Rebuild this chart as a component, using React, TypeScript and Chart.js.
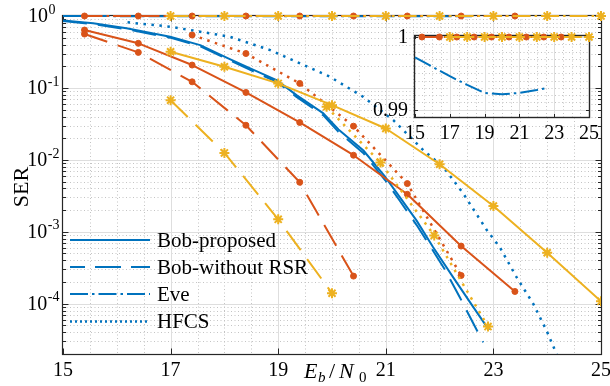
import React, { useEffect, useRef } from 'react';
import { Chart, registerables } from 'chart.js';
Chart.register(...registerables);

const BLUE = '#0072BD';
const RED = '#D95319';
const YELLOW = '#EDB120';
const AX = '#262626';
const GRID_MAJOR = '#dedede';
const GRID_MINOR = '#c4c4c4';
const FONT = '"Liberation Serif", "Times New Roman", serif';

// ---- tick labels ----
const X_TICKS = [15, 17, 19, 21, 23, 25];
const Y_DECADES = [0, -1, -2, -3, -4];
const INSET_X_TICKS = [15, 17, 19, 21, 23, 25];
const INSET_Y_TICKS = [0.99, 1];
const INSET_Y_LABELS = ['0.99', '1'];
const LEGEND_LABELS = ['Bob-proposed', 'Bob-without RSR', 'Eve', 'HFCS'];

// ---- blue group (no markers) ----
const blueProposedX = [15, 15.56, 16.18, 16.99, 17.55, 18.07, 18.48, 18.97, 19.34, 19.84, 20.12, 20.58, 20.99, 21.26, 21.57, 21.88, 22.25, 22.63, 22.92];
const blueProposedY = [0.865, 0.79, 0.674, 0.515, 0.394, 0.258, 0.187, 0.1285, 0.0794, 0.0442, 0.0265, 0.0136, 0.00578, 0.00304, 0.00144, 0.00061, 0.000234, 0.000089, 0.000043];
const blueNoRsrX = [15, 15.56, 16.18, 16.99, 17.55, 18.07, 18.48, 18.97, 19.34, 19.84, 20.12, 20.58, 20.99, 21.26, 21.57, 21.82, 22.1, 22.38, 22.81];
const blueNoRsrY = [0.85, 0.77, 0.655, 0.5, 0.38, 0.248, 0.178, 0.122, 0.075, 0.0415, 0.0245, 0.0125, 0.0052, 0.0027, 0.00125, 0.00064, 0.000296, 0.000121, 0.000029];
const blueEveX = [15, 16, 17, 18, 19, 20, 21, 22, 22.6];
const blueEveY = [0.9972, 0.9959, 0.9946, 0.9934, 0.9923, 0.9921, 0.9923, 0.9927, 0.993];
const blueHfcsX = [16.2, 16.99, 17.55, 18.1, 18.85, 19.34, 19.96, 20.58, 21.14, 21.7, 22.07, 22.44, 22.88, 23.12, 23.43, 23.74, 23.99, 24.2];
const blueHfcsY = [0.817, 0.71, 0.605, 0.515, 0.336, 0.231, 0.143, 0.0752, 0.0356, 0.0136, 0.00796, 0.0034, 0.00105, 0.00061, 0.000234, 0.0001, 0.000042, 0.000018];

// ---- red group (dot markers) ----
const redProposedX = [15.4, 16.4, 17.4, 18.4, 19.4, 20.4, 21.4, 22.4, 23.4];
const redProposedY = [0.638, 0.417, 0.208, 0.0865, 0.0331, 0.0116, 0.00332, 0.000633, 0.000148];
const redNoRsrX = [15.4, 16.4, 17.4, 18.4, 19.4, 20.4];
const redNoRsrY = [0.561, 0.312, 0.1216, 0.0303, 0.00488, 0.000242];
const redEveX = [15.4, 16.4, 17.4, 18.4, 19.4, 20.4, 21.4, 22.4, 23.4];
const redEveY = [1, 1, 1, 1, 1, 1, 1, 1, 1];
const redHfcsX = [17.4, 18.4, 19.4, 20.4, 21.4, 22.4];
const redHfcsY = [0.544, 0.301, 0.1156, 0.0294, 0.00468, 0.000247];

// ---- yellow group (star markers) ----
const yellowProposedX = [17, 18, 19, 20, 21, 22, 23, 24, 25];
const yellowProposedY = [0.318, 0.197, 0.1156, 0.0576, 0.0273, 0.00869, 0.00228, 0.000512, 0.000108];
const yellowNoRsrX = [17, 18, 19, 20];
const yellowNoRsrY = [0.0676, 0.0125, 0.00149, 0.00014];
const yellowEveX = [17, 18, 19, 20, 21, 22, 23, 24, 25];
const yellowEveY = [1, 1, 1, 1, 1, 1, 1, 1, 1];
const yellowHfcsX = [19.9, 20.9, 21.9, 22.9];
const yellowHfcsY = [0.0546, 0.00917, 0.00089, 0.0000481];

const SOLID: number[] = [];
const DASHED = [24, 11];
const DASHDOT = [18, 4, 2.5, 4];
const DOTTED = [2.5, 5.5];

function pts(xs: number[], ys: number[]) {
  return xs.map((x, i) => ({ x, y: ys[i] }));
}

function ds(label: string, xs: number[], ys: number[], color: string, dash: number[], marker: string | null, order: number, extra: any = {}) {
  return {
    label,
    data: pts(xs, ys),
    borderColor: color,
    backgroundColor: color,
    borderWidth: dash === DOTTED ? 2.5 : 2,
    borderDash: dash,
    borderCapStyle: 'butt',
    borderJoinStyle: 'round',
    tension: 0,
    fill: false,
    pointRadius: marker ? (marker === 'circle' ? 3 : 5) : 0,
    pointStyle: marker || 'circle',
    pointBackgroundColor: color,
    pointBorderColor: color,
    pointBorderWidth: marker === 'star' ? 2 : 1,
    order,
    ...extra,
  };
}

function line(ctx: CanvasRenderingContext2D, x0: number, y0: number, x1: number, y1: number) {
  ctx.beginPath();
  ctx.moveTo(x0, y0);
  ctx.lineTo(x1, y1);
  ctx.stroke();
}

const crisp = (v: number) => Math.round(v) + 0.5;

const mainDecor = {
  id: 'mainDecor',
  beforeDatasetsDraw(chart: any) {
    const { ctx, chartArea: a } = chart;
    const xs = chart.scales.x;
    const ys = chart.scales.y;
    ctx.save();
    ctx.lineWidth = 1;
    // minor grid
    ctx.strokeStyle = GRID_MINOR;
    ctx.setLineDash([1, 2.5]);
    for (let v = 15.5; v < 25; v += 0.5) {
      if (X_TICKS.includes(v)) continue;
      const px = crisp(xs.getPixelForValue(v));
      line(ctx, px, a.top, px, a.bottom);
    }
    for (let e = -5; e < 0; e++) {
      for (let k = 2; k <= 9; k++) {
        const v = k * Math.pow(10, e);
        if (v <= ys.min || v >= ys.max) continue;
        const py = crisp(ys.getPixelForValue(v));
        line(ctx, a.left, py, a.right, py);
      }
    }
    // major grid
    ctx.setLineDash([]);
    ctx.strokeStyle = GRID_MAJOR;
    for (const v of X_TICKS) {
      if (v === 15 || v === 25) continue;
      const px = crisp(xs.getPixelForValue(v));
      line(ctx, px, a.top, px, a.bottom);
    }
    for (const e of Y_DECADES) {
      if (e === 0) continue;
      const py = crisp(ys.getPixelForValue(Math.pow(10, e)));
      line(ctx, a.left, py, a.right, py);
    }
    // box
    ctx.strokeStyle = AX;
    ctx.lineWidth = 1.2;
    ctx.strokeRect(crisp(a.left) - 1, crisp(a.top) - 1, Math.round(a.right - a.left) + 1, Math.round(a.bottom - a.top) + 1);
    // ticks
    ctx.lineWidth = 1;
    for (const v of X_TICKS) {
      const px = crisp(xs.getPixelForValue(v));
      line(ctx, px, a.bottom, px, a.bottom - 5.5);
      line(ctx, px, a.top, px, a.top + 5.5);
    }
    for (const e of Y_DECADES) {
      const py = crisp(ys.getPixelForValue(Math.pow(10, e)));
      line(ctx, a.left, py, a.left + 5.5, py);
      line(ctx, a.right, py, a.right - 5.5, py);
    }
    for (let e = -5; e < 0; e++) {
      for (let k = 2; k <= 9; k++) {
        const v = k * Math.pow(10, e);
        if (v <= ys.min || v >= ys.max) continue;
        const py = crisp(ys.getPixelForValue(v));
        line(ctx, a.left, py, a.left + 3, py);
        line(ctx, a.right, py, a.right - 3, py);
      }
    }
    ctx.restore();
  },
  afterDatasetsDraw(chart: any) {
    const { ctx, chartArea: a } = chart;
    const xs = chart.scales.x;
    const ys = chart.scales.y;
    ctx.save();
    ctx.fillStyle = '#000';
    // x tick labels
    ctx.font = `20px ${FONT}`;
    ctx.textAlign = 'center';
    ctx.textBaseline = 'middle';
    for (const v of X_TICKS) {
      ctx.fillText(String(v), xs.getPixelForValue(v), a.bottom + 17);
    }
    // y tick labels 10^e
    for (const e of Y_DECADES) {
      const py = ys.getPixelForValue(Math.pow(10, e));
      const expStr = e === 0 ? '0' : '-' + String(-e);
      ctx.font = `14px ${FONT}`;
      const we = ctx.measureText(expStr).width;
      ctx.font = `20px ${FONT}`;
      const wb = ctx.measureText('10').width;
      const right = e === 0 ? a.left - 8 : a.left - 4;
      const x0 = right - we - wb;
      ctx.textAlign = 'left';
      ctx.textBaseline = 'middle';
      ctx.fillText('10', x0, py + 1);
      ctx.font = `14px ${FONT}`;
      ctx.fillText(expStr, x0 + wb + 0.5, py - 6);
    }
    // y title
    ctx.save();
    ctx.translate(22, (a.top + a.bottom) / 2 + 2);
    ctx.rotate(-Math.PI / 2);
    ctx.font = `22px ${FONT}`;
    ctx.textAlign = 'center';
    ctx.textBaseline = 'middle';
    ctx.fillText('SER', 0, 0);
    ctx.restore();
    // x title E_b/N_0
    ctx.textAlign = 'left';
    ctx.textBaseline = 'alphabetic';
    const base = a.bottom + 24;
    ctx.font = `italic 22px ${FONT}`;
    ctx.fillText('E', 304, base);
    ctx.font = `italic 15px ${FONT}`;
    ctx.fillText('b', 318, base + 4);
    ctx.font = `22px ${FONT}`;
    ctx.fillText('/', 329, base);
    ctx.font = `italic 22px ${FONT}`;
    ctx.fillText('N', 339, base);
    ctx.font = `15px ${FONT}`;
    ctx.fillText('0', 359, base + 4);
    // legend
    const legendDash = [SOLID, [26, 10], [18, 4, 2.5, 4], [2, 3]];
    const rowsY = [240, 267, 294, 321.5];
    for (let i = 0; i < LEGEND_LABELS.length; i++) {
      ctx.strokeStyle = BLUE;
      ctx.lineWidth = i === 3 ? 2.5 : 2;
      ctx.setLineDash(legendDash[i]);
      if (i === 1) ctx.lineDashOffset = 11; else ctx.lineDashOffset = 0;
      line(ctx, 70, rowsY[i], 150, rowsY[i]);
      ctx.setLineDash([]);
      ctx.font = `21px ${FONT}`;
      ctx.fillStyle = '#000';
      ctx.textBaseline = 'middle';
      ctx.fillText(LEGEND_LABELS[i], 157, rowsY[i] + 1);
    }
    ctx.restore();
  },
};

const insetDecor = {
  id: 'insetDecor',
  beforeDatasetsDraw(chart: any) {
    const { ctx, chartArea: a } = chart;
    const xs = chart.scales.x;
    const ys = chart.scales.y;
    ctx.save();
    ctx.fillStyle = '#fff';
    ctx.fillRect(a.left, a.top, a.right - a.left, a.bottom - a.top);
    ctx.lineWidth = 1;
    ctx.strokeStyle = GRID_MINOR;
    ctx.setLineDash([1, 2.5]);
    for (let v = 15.5; v < 25; v += 0.5) {
      if (INSET_X_TICKS.includes(v)) continue;
      const px = crisp(xs.getPixelForValue(v));
      line(ctx, px, a.top, px, a.bottom);
    }
    for (let k = 1; k <= 9; k++) {
      const py = crisp(ys.getPixelForValue(0.99 + k * 0.001));
      line(ctx, a.left, py, a.right, py);
    }
    {
      const py = crisp(ys.getPixelForValue(0.989));
      if (py < a.bottom) line(ctx, a.left, py, a.right, py);
    }
    ctx.setLineDash([]);
    ctx.strokeStyle = GRID_MAJOR;
    for (const v of INSET_X_TICKS) {
      if (v === 15 || v === 25) continue;
      const px = crisp(xs.getPixelForValue(v));
      line(ctx, px, a.top, px, a.bottom);
    }
    for (const v of INSET_Y_TICKS) {
      const py = crisp(ys.getPixelForValue(v));
      line(ctx, a.left, py, a.right, py);
    }
    ctx.strokeStyle = AX;
    ctx.lineWidth = 1.4;
    ctx.strokeRect(crisp(a.left) - 1, crisp(a.top) - 1, Math.round(a.right - a.left) + 1, Math.round(a.bottom - a.top) + 1);
    ctx.lineWidth = 1;
    for (const v of INSET_X_TICKS) {
      const px = crisp(xs.getPixelForValue(v));
      line(ctx, px, a.bottom, px, a.bottom - 3);
      line(ctx, px, a.top, px, a.top + 3);
    }
    for (const v of INSET_Y_TICKS) {
      const py = crisp(ys.getPixelForValue(v));
      line(ctx, a.left, py, a.left + 3, py);
      line(ctx, a.right, py, a.right - 3, py);
    }
    ctx.restore();
  },
  afterDatasetsDraw(chart: any) {
    const { ctx, chartArea: a } = chart;
    const xs = chart.scales.x;
    const ys = chart.scales.y;
    ctx.save();
    ctx.fillStyle = '#000';
    ctx.font = `20px ${FONT}`;
    ctx.textAlign = 'center';
    ctx.textBaseline = 'middle';
    for (const v of INSET_X_TICKS) {
      ctx.fillText(String(v), xs.getPixelForValue(v), a.bottom + 17);
    }
    ctx.textAlign = 'right';
    for (let i = 0; i < INSET_Y_TICKS.length; i++) {
      ctx.fillText(INSET_Y_LABELS[i], a.left - 7, ys.getPixelForValue(INSET_Y_TICKS[i]) + 1);
    }
    ctx.restore();
  },
};

export default function App() {
  const mainRef = useRef<HTMLCanvasElement>(null);
  const insetRef = useRef<HTMLCanvasElement>(null);

  useEffect(() => {
    const noClip = { clip: false };
    const mainDatasets: any[] = [
      ds('Bob-proposed', blueProposedX, blueProposedY, BLUE, SOLID, null, 2),
      ds('Bob-without RSR', blueNoRsrX, blueNoRsrY, BLUE, DASHED, null, 2),
      ds('Eve', blueEveX, blueEveY, BLUE, DASHDOT, null, 2, noClip),
      ds('HFCS', blueHfcsX, blueHfcsY, BLUE, DOTTED, null, 2),
      ds('Bob-proposed (red)', redProposedX, redProposedY, RED, SOLID, 'circle', 1),
      ds('Bob-without RSR (red)', redNoRsrX, redNoRsrY, RED, DASHED, 'circle', 1),
      ds('Eve (red)', redEveX, redEveY, RED, DASHDOT, 'circle', 1, noClip),
      ds('HFCS (red)', redHfcsX, redHfcsY, RED, DOTTED, 'circle', 1),
      ds('Bob-proposed (yellow)', yellowProposedX, yellowProposedY, YELLOW, SOLID, 'star', 0),
      ds('Bob-without RSR (yellow)', yellowNoRsrX, yellowNoRsrY, YELLOW, DASHED, 'star', 0),
      ds('Eve (yellow)', yellowEveX, yellowEveY, YELLOW, DASHDOT, 'star', 0, noClip),
      ds('HFCS (yellow)', yellowHfcsX, yellowHfcsY, YELLOW, DOTTED, 'star', 0),
    ];
    const main = new Chart(mainRef.current as HTMLCanvasElement, {
      type: 'line',
      data: { datasets: mainDatasets },
      options: {
        responsive: false,
        animation: false,
        devicePixelRatio: 1,
        events: [],
        layout: { padding: { left: 63, right: 9, top: 16, bottom: 32 } },
        scales: {
          x: { type: 'linear', min: 15, max: 25, display: false },
          y: { type: 'logarithmic', min: 2e-5, max: 1, display: false },
        },
        plugins: { legend: { display: false }, tooltip: { enabled: false } },
      } as any,
      plugins: [mainDecor],
    });

    const insetDatasets: any[] = [
      ds('Eve', blueEveX, blueEveY, BLUE, DASHDOT, null, 2, noClip),
      ds('Eve (red)', redEveX, redEveY, RED, DASHDOT, 'circle', 1, noClip),
      ds('Eve (yellow)', yellowEveX, yellowEveY, YELLOW, DASHDOT, 'star', 0, noClip),
    ];
    const inset = new Chart(insetRef.current as HTMLCanvasElement, {
      type: 'line',
      data: { datasets: insetDatasets },
      options: {
        responsive: false,
        animation: false,
        devicePixelRatio: 1,
        events: [],
        layout: { padding: { left: 55, right: 21, top: 16, bottom: 33 } },
        scales: {
          x: { type: 'linear', min: 15, max: 25, display: false },
          y: { type: 'linear', min: 0.98898, max: 1.00014, display: false },
        },
        plugins: { legend: { display: false }, tooltip: { enabled: false } },
      } as any,
      plugins: [insetDecor],
    });

    return () => {
      main.destroy();
      inset.destroy();
    };
  }, []);

  return (
    <div style={{ position: 'fixed', left: 0, top: 0, width: 610, height: 386, background: '#fff', overflow: 'hidden' }}>
      <canvas ref={mainRef} width={610} height={386} style={{ position: 'absolute', left: 0, top: 0, width: 610, height: 386 }} />
      <canvas ref={insetRef} width={250} height={130} style={{ position: 'absolute', left: 360, top: 20, width: 250, height: 130 }} />
    </div>
  );
}
